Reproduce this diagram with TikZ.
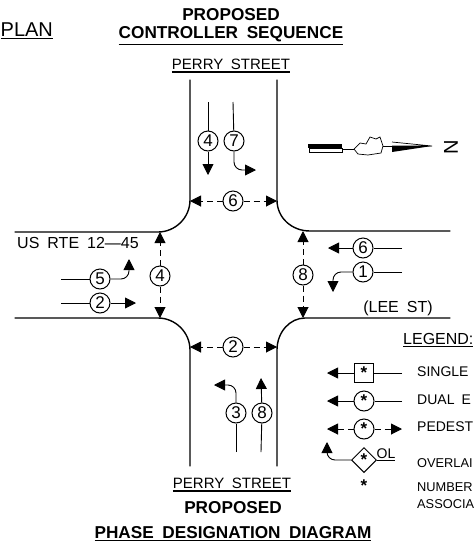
\documentclass[tikz,border=0pt]{standalone}
\usepackage{fontspec}
\setmainfont{Liberation Sans}[WordSpace=1.8]
\usetikzlibrary{arrows.meta,positioning,shapes.geometric}

\newcommand{\ulined}[1]{\vtop{\hbox{#1}\kern1.5pt\hrule height 1.2pt}}
\newcommand{\phasestar}{\raisebox{-3.5pt}{\fontsize{17}{17}\selectfont\bfseries *}}

\tikzset{
    road/.style={line width=1.4pt, line cap=round},
    lane/.style={line width=0.9pt, -{Triangle[length=11pt,width=11pt]}},
    walk/.style={line width=1pt, dash pattern=on 6pt off 4pt, -{Triangle[length=11pt,width=11pt]}},
    phase/.style={circle, draw, line width=1pt, minimum size=20pt, inner sep=0pt, font=\fontsize{17}{17}\selectfont},
    street/.style={inner sep=0pt, font=\fontsize{15}{15}\selectfont},
    title/.style={inner sep=0pt, font=\fontsize{17.2}{17}\selectfont\bfseries},
    entry/.style={inner sep=0pt, anchor=west, font=\fontsize{14}{14}\selectfont},
    small/.style={inner sep=0pt, anchor=west, align=left, font=\fontsize{12.8}{17}\selectfont}
}

\begin{document}
\begin{tikzpicture}[x=1pt, y=-1pt]
    \useasboundingbox (0,0) rectangle (474,550);

    % Titles
    \node[inner sep=0pt, anchor=west, font=\fontsize{20}{20}\selectfont] (plan) at (0.5,31) {\ulined{PLAN}};
    \node[title] (proptop) at (231,15) {PROPOSED};
    \node[title] (seq) at (231,36) {\ulined{CONTROLLER SEQUENCE}};
    \node[street] (perrytop) at (231,66) {\ulined{PERRY STREET}};
    \node[street] (perrybot) at (232,485) {\ulined{PERRY STREET}};
    \node[title] (propbot) at (233,508) {PROPOSED};
    \node[title] (diagram) at (233,534) {\ulined{PHASE DESIGNATION DIAGRAM}};
    \node[street, font=\fontsize{16}{16}\selectfont] (rte) at (78,243) {US RTE 12---45};
    \node[street, font=\fontsize{16}{16}\selectfont] (lee) at (398,308) {(LEE ST)};

    % Road edges
    \coordinate (nwa) at (190,80);
    \coordinate (nea) at (277,80);
    \coordinate (wna) at (15,232);
    \coordinate (wsa) at (15,318);
    \coordinate (ena) at (450,231);
    \coordinate (esa) at (450,318);
    \coordinate (swa) at (190,466);
    \coordinate (sea) at (277,466);
    \draw[road] (nwa) -- (190,200) .. controls (190,218) and (175,232) .. (158,232) -- (wna);
    \draw[road] (nea) -- (277,200) .. controls (277,218) and (292,231) .. (310,231) -- (ena);
    \draw[road] (wsa) -- (158,318) .. controls (175,318) and (190,332) .. (190,350) -- (swa);
    \draw[road] (esa) -- (305,318) .. controls (290,318) and (277,332) .. (277,350) -- (sea);

    % Vehicle phases
    \node[phase] (north4) at (208,141) {4};
    \node[phase, right=5pt of north4] (north7) {7};
    \node[phase] (west5) at (100,279) {5};
    \node[phase] (west2) at (100,303) {2};
    \node[phase] (east6) at (363,248) {6};
    \node[phase] (east1) at (363,272) {1};
    \node[phase] (south3) at (236,413) {3};
    \node[phase, right=5pt of south3] (south8) {8};

    \draw[lane, -] (208,102) -- (north4);
    \draw[lane] (north4) -- (208,175);
    \draw[lane, -] (233,102) -- (north7);
    \draw[lane, rounded corners=8pt] (north7) |- (256,170);
    \draw[lane, -] (61,279) -- (west5);
    \draw[lane, rounded corners=8pt] (west5) -| (129,259);
    \draw[lane, -] (61,303) -- (west2);
    \draw[lane] (west2) -- (136,303);
    \draw[lane, -] (402,248) -- (east6);
    \draw[lane] (east6) -- (328,248);
    \draw[lane, -] (402,272) -- (east1);
    \draw[lane, rounded corners=8pt] (east1) -| (333,292);
    \draw[lane, -] (236,452) -- (south3);
    \draw[lane, rounded corners=8pt] (south3) |- (214,385);
    \draw[lane, -] (261,452) -- (south8);
    \draw[lane] (south8) -- (261,378);

    % Pedestrian phases
    \node[phase] (walk6) at (233,201) {6};
    \node[phase] (walk4) at (160,276) {4};
    \node[phase] (walk8) at (303,275) {8};
    \node[phase] (walk2) at (233,347) {2};
    \draw[walk] (walk6) -- (190,201);
    \draw[walk] (walk6) -- (277,201);
    \draw[walk] (walk4) -- (160,232);
    \draw[walk] (walk4) -- (160,318);
    \draw[walk] (walk8) -- (303,231);
    \draw[walk] (walk8) -- (303,318);
    \draw[walk] (walk2) -- (190,347);
    \draw[walk] (walk2) -- (277,347);

    % North arrow
    \fill (308,144) rectangle (342,148);
    \draw[line width=0.6pt] (309,148) rectangle (342,152);
    \draw[line width=0.7pt] (342,149) -- (354,149);
    \draw[line width=0.7pt] (354,149) -- (360,143) -- (366,144) -- (370,137) -- (376,139) -- (380,137) -- (383,146)
        -- (381,153) -- (368,155) -- (358,154) -- cycle;
    \draw[line width=0.7pt] (383,146) -- (392,146);
    \draw[line width=0.7pt] (392,142) -- (432,146) -- (392,146);
    \fill (392,146) -- (432,146) -- (392,152) -- cycle;
    \node[inner sep=0pt, rotate=90, font=\fontsize{20}{20}\selectfont] (north) at (451,147) {N};

    % Legend
    \node[street, anchor=west, font=\fontsize{16}{16}\selectfont] (legend) at (403,340) {\ulined{LEGEND:}};
    \node[rectangle, draw, line width=1pt, minimum size=19pt, inner sep=0pt] (single) at (364,373) {\phasestar};
    \node[phase] (dual) at (364,401) {\phasestar};
    \node[phase] (ped) at (364,429) {\phasestar};
    \node[diamond, draw, line width=1pt, minimum width=25pt, minimum height=25pt, inner sep=0pt] (overlap) at (364,460) {\phasestar};
    \node[inner sep=0pt, font=\fontsize{14}{14}\selectfont] (ol) at (386,455) {\ulined{OL}};
    \node[inner sep=0pt] (star) at (364,486) {\phasestar};
    \draw[lane, -] (402,373) -- (single);
    \draw[lane] (single) -- (327,373);
    \draw[lane, -] (402,401) -- (dual);
    \draw[lane] (dual) -- (327,401);
    \draw[walk] (ped) -- (327,429);
    \draw[walk] (ped) -- (402,429);
    \draw[lane, rounded corners=8pt] (overlap) -| (327,442);

    \node[entry] (singletext) at (417,372) {SINGLE};
    \node[entry] (dualtext) at (417,400) {DUAL E};
    \node[entry] (pedtext) at (417,427) {PEDEST};
    \node[small] (overtext) at (417,463) {OVERLAI};
    \node[small] (numbertext) at (417,496) {NUMBER\\ASSOCIA};
\end{tikzpicture}
\end{document}
